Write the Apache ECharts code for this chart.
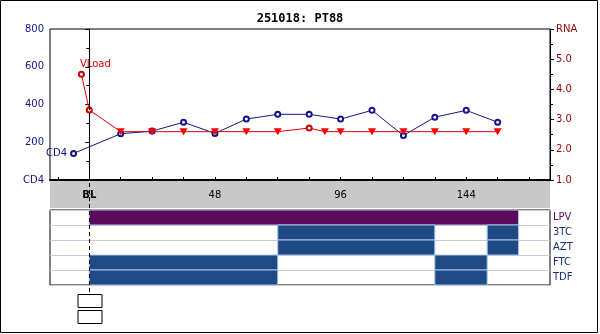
<!DOCTYPE html>
<html>
<head>
<meta charset="utf-8">
<script src="https://cdn.jsdelivr.net/npm/echarts@6/dist/echarts.min.js"></script>
<style>
  html, body { margin: 0; padding: 0; background: #fff; }
  #chart { width: 600px; height: 334px; }
</style>
</head>
<body>
<div id="chart"></div>
<script>
// Patient follow-up: CD4 count, viral load (log10 RNA) and drug regimen by week
const titleText = '251018: PT88';

// CD4 counts (cells/uL)
const cd4Weeks  = [-6, 12, 24, 36, 48, 60, 72, 84, 96, 108, 120, 132, 144, 156];
const cd4Values = [141, 245, 259, 306, 247, 323, 348, 348, 323, 369, 236, 333, 369, 306];

// Viral load (log10 copies/mL); flagged points are below the detection limit
const vlWeeks  = [-3, 0, 12, 24, 36, 48, 60, 72, 84, 90, 96, 108, 120, 132, 144, 156];
const vlLog    = [4.5, 3.32, 2.6, 2.6, 2.6, 2.6, 2.6, 2.6, 2.72, 2.6, 2.6, 2.6, 2.6, 2.6, 2.6, 2.6];
const vlBelow  = [false, false, true, true, true, true, true, true, false, true, true, true, true, true, true, true];

// Week axis
const weekMin = -15, weekMax = 176;
const weekTicks = [-12, 0, 12, 24, 36, 48, 60, 72, 84, 96, 108, 120, 132, 144, 156, 168];
const weekLabels = [0, 48, 96, 144];
const baselineWeek = 0;

// Drug regimen: rows and periods on each drug [row, startWeek, endWeek]
const drugs = ['LPV', '3TC', 'AZT', 'FTC', 'TDF'];
const drugPeriods = [
  [0, 0, 164],
  [1, 72, 132], [1, 152, 164],
  [2, 72, 132], [2, 152, 164],
  [3, 0, 72], [3, 132, 152],
  [4, 0, 72], [4, 132, 152]
];

const FONT = 'DejaVu Sans';
const CD4_COLOR = '#14148c';
const RNA_COLOR = '#990000';
const VL_COLOR = '#dd0000';
const LPV_COLOR = '#5c0a5c';
const NRTI_COLOR = '#1f4a86';

const chart = echarts.init(document.getElementById('chart'), null, { renderer: 'canvas' });

const cd4Data = cd4Weeks.map((w, i) => {
  const item = { value: [w, cd4Values[i]] };
  if (i === 0) {
    item.label = {
      show: true, position: 'left', distance: 3, formatter: 'CD4',
      color: CD4_COLOR, fontFamily: FONT, fontSize: 10
    };
  }
  return item;
});

const vlData = vlWeeks.map((w, i) => {
  const item = { value: [w, vlLog[i]] };
  if (vlBelow[i]) {
    item.symbol = 'triangle';
    item.symbolRotate = 180;
    item.symbolSize = [8, 7];
    item.itemStyle = { color: '#ff0000', borderColor: '#ff0000', borderWidth: 0 };
  }
  if (i === 0) {
    item.label = {
      show: true, position: [2, -11], formatter: 'VLoad',
      color: VL_COLOR, fontFamily: FONT, fontSize: 10
    };
  }
  return item;
});

const option = {
  animation: false,
  backgroundColor: '#fff',
  title: {
    text: titleText, left: 'center', top: 13, padding: 0,
    textStyle: { fontFamily: 'DejaVu Sans Mono', fontWeight: 'bold', fontSize: 12, color: '#000' }
  },
  graphic: [{
    type: 'rect', z: 100, silent: true,
    shape: { x: 0.5, y: 0.5, width: 597, height: 332 },
    style: { fill: 'none', stroke: '#000', lineWidth: 1 }
  }],
  grid: [
    { left: 50, right: 50, top: 29, height: 151, show: true, borderColor: '#000', borderWidth: 1, backgroundColor: '#fff' },
    { left: 50, right: 50, top: 180, height: 28, show: true, borderWidth: 0, backgroundColor: '#c8c8c8', z: -1 },
    { left: 50, right: 50, top: 210, height: 75, show: true, borderColor: '#000', borderWidth: 1, backgroundColor: '#fff' },
    { left: 50, right: 50, top: 29, height: 294, show: false }
  ],
  xAxis: [
    {
      gridIndex: 0, type: 'value', min: weekMin, max: weekMax, z: 5,
      axisLine: { show: true, onZero: false, lineStyle: { color: '#000', width: 2 } },
      axisTick: { show: true, inside: true, length: 3, customValues: weekTicks, lineStyle: { color: '#000' } },
      axisLabel: {
        show: true, margin: 10, customValues: weekLabels,
        fontFamily: FONT, fontSize: 10, color: '#000',
        formatter: v => v === baselineWeek ? '{b|BL}' : String(v),
        rich: { b: { fontFamily: FONT, fontSize: 10, fontWeight: 'bold', color: '#000' } }
      },
      splitLine: { show: false }
    },
    { gridIndex: 1, type: 'value', min: 0, max: 1, show: false },
    { gridIndex: 2, type: 'value', min: weekMin, max: weekMax, show: false },
    { gridIndex: 3, type: 'value', min: weekMin, max: weekMax, show: false }
  ],
  yAxis: [
    {
      gridIndex: 0, type: 'value', min: 0, max: 800, interval: 200, position: 'left',
      axisLine: { show: true, lineStyle: { color: '#000' } },
      axisTick: { show: true, length: 4, lineStyle: { color: '#000' } },
      minorTick: { show: true, splitNumber: 2, length: 3, lineStyle: { color: '#000' } },
      axisLabel: {
        margin: 6, fontFamily: FONT, fontSize: 10, color: CD4_COLOR,
        formatter: v => v === 0 ? 'CD4' : String(v)
      },
      splitLine: { show: false }
    },
    {
      gridIndex: 0, type: 'value', min: 1, max: 6, interval: 1, position: 'right',
      axisLine: { show: true, lineStyle: { color: '#000' } },
      axisTick: { show: true, length: 4, lineStyle: { color: '#000' } },
      minorTick: { show: true, splitNumber: 2, length: 3, lineStyle: { color: '#000' } },
      axisLabel: {
        margin: 6, fontFamily: FONT, fontSize: 10, color: RNA_COLOR,
        formatter: v => v === 6 ? 'RNA' : v.toFixed(1)
      },
      splitLine: { show: false }
    },
    { gridIndex: 1, type: 'value', min: 0, max: 1, show: false },
    {
      gridIndex: 2, type: 'category', data: drugs, inverse: true, position: 'right',
      axisLine: { show: false }, axisTick: { show: false },
      axisLabel: {
        margin: 3, fontFamily: FONT, fontSize: 10,
        formatter: v => v === 'LPV' ? '{p|' + v + '}' : '{n|' + v + '}',
        rich: {
          p: { color: LPV_COLOR, fontFamily: FONT, fontSize: 10 },
          n: { color: '#1b3170', fontFamily: FONT, fontSize: 10 }
        }
      },
      splitLine: { show: true, lineStyle: { color: '#c4ccd6', width: 1 } }
    },
    { gridIndex: 3, type: 'value', min: 0, max: 1, show: false }
  ],
  series: [
    {
      name: 'Regimen', type: 'custom', xAxisIndex: 2, yAxisIndex: 3,
      data: drugPeriods,
      encode: { x: [1, 2], y: 0 },
      renderItem: (params, api) => {
        const row = api.value(0);
        const s = api.coord([api.value(1), row]);
        const e = api.coord([api.value(2), row]);
        const h = api.size([0, 1])[1];
        return {
          type: 'rect',
          shape: { x: s[0], y: s[1] - h / 2, width: e[0] - s[0], height: h },
          style: { fill: row === 0 ? LPV_COLOR : NRTI_COLOR, stroke: '#a9c6ea', lineWidth: 1 }
        };
      }
    },
    {
      name: 'CD4', type: 'line', xAxisIndex: 0, yAxisIndex: 0, z: 3,
      data: cd4Data,
      symbol: 'emptyCircle', symbolSize: 5,
      lineStyle: { color: CD4_COLOR, width: 1 },
      itemStyle: { color: CD4_COLOR, borderColor: CD4_COLOR, borderWidth: 1 }
    },
    {
      name: 'VLoad', type: 'line', xAxisIndex: 0, yAxisIndex: 1, z: 4,
      data: vlData,
      symbol: 'emptyCircle', symbolSize: 5,
      lineStyle: { color: VL_COLOR, width: 1 },
      itemStyle: { color: '#cc0000', borderColor: '#cc0000', borderWidth: 1 }
    },
    {
      name: 'Baseline', type: 'custom', xAxisIndex: 3, yAxisIndex: 4, z: 10,
      data: [[baselineWeek, 0]],
      renderItem: (params, api) => {
        const x = Math.round(api.coord([api.value(0), 0])[0]) + 0.5;
        const top = params.coordSys.y;
        const bottom = params.coordSys.y + params.coordSys.height;
        const boxW = 24, boxH = 13;
        return {
          type: 'group',
          children: [
            { type: 'line', shape: { x1: x, y1: top, x2: x, y2: bottom - 2 * boxH - 3 },
              style: { stroke: '#000', lineWidth: 1, lineDash: [4, 3] } },
            { type: 'rect', shape: { x: Math.round(x - boxW / 2), y: bottom - 2 * boxH - 3 + 0.5, width: boxW, height: boxH },
              style: { fill: '#fff', stroke: '#000', lineWidth: 1 } },
            { type: 'rect', shape: { x: Math.round(x - boxW / 2), y: bottom - boxH + 0.5, width: boxW, height: boxH },
              style: { fill: '#fff', stroke: '#000', lineWidth: 1 } }
          ]
        };
      }
    }
  ]
};

chart.setOption(option);
</script>
</body>
</html>
